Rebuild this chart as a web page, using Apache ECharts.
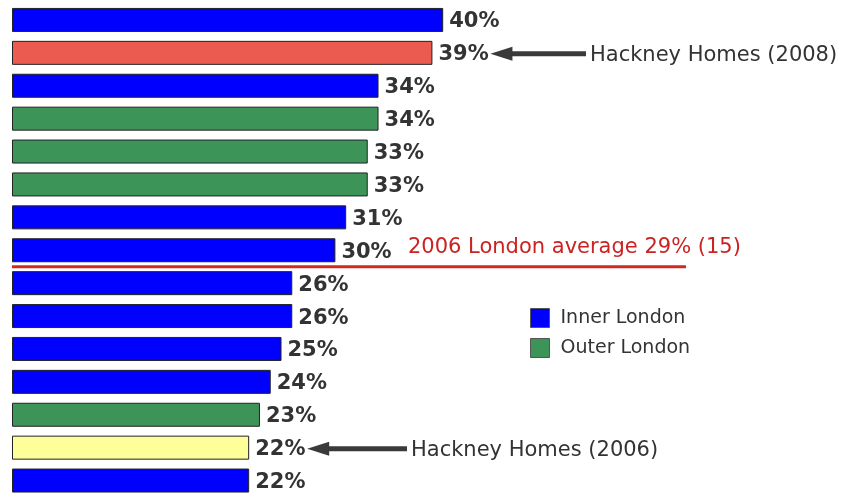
<!DOCTYPE html>
<html>
<head>
<meta charset="utf-8">
<script src="https://cdn.jsdelivr.net/npm/echarts@6/dist/echarts.min.js"></script>
<style>
  html, body { margin: 0; padding: 0; background: #fff; }
  #chart_container { width: 846px; height: 497px; }
</style>
</head>
<body>
<div id="chart_container"></div>
<script>
// rows top to bottom
var rows = ['1', '2', '3', '4', '5', '6', '7', '8', '9', '10', '11', '12', '13', '14', '15'];
var innerLondon = [40, '-', 34, '-', '-', '-', 31, 30, 26, 26, 25, 24, '-', '-', 22];
var outerLondon = ['-', '-', '-', 34, 33, 33, '-', '-', '-', '-', '-', '-', 23, '-', '-'];
var hackney = ['-', 39, '-', '-', '-', '-', '-', '-', '-', '-', '-', '-', '-', 22, '-'];
var hackneyColors = { 1: '#eb5b50', 13: '#ffff99' };
var londonAverage = 29;
var averageRank = 15;

var FONT = 'DejaVu Sans';
var chart = echarts.init(document.getElementById('chart_container'));

var labelStyle = {
  show: true,
  position: 'right',
  distance: 6,
  offset: [0, 2],
  formatter: '{c}%',
  fontFamily: FONT,
  fontWeight: 'bold',
  fontSize: 21,
  color: '#333'
};

function barSeries(name, values, color) {
  return {
    name: name,
    type: 'bar',
    data: values,
    barWidth: 24,
    barGap: '-100%',
    itemStyle: { color: color, borderColor: '#222', borderWidth: 1 },
    label: labelStyle,
    silent: true
  };
}

var hackneySeries = barSeries('Hackney Homes', hackney.map(function (v, i) {
  return v === '-' ? v : { value: v, itemStyle: { color: hackneyColors[i] } };
}), '#eb5b50');

option = {
  animation: false,
  backgroundColor: '#fff',
  grid: { left: 12, top: 3.5, width: 754.6, height: 495 },
  xAxis: { type: 'value', min: 0, max: 70, show: false },
  yAxis: { type: 'category', data: rows, inverse: true, show: false },
  legend: {
    data: ['Inner London', 'Outer London'],
    orient: 'vertical',
    left: 525,
    top: 303,
    itemWidth: 19,
    itemHeight: 19,
    itemGap: 10,
    icon: 'rect',
    selectedMode: false,
    itemStyle: { borderColor: '#555', borderWidth: 1 },
    textStyle: { fontFamily: FONT, fontSize: 19, color: '#333', padding: [0, 0, 0, 6] }
  },
  series: [
    barSeries('Inner London', innerLondon, '#0000ff'),
    barSeries('Outer London', outerLondon, '#3d9458'),
    hackneySeries
  ]
};
chart.setOption(option);

// annotations placed from the chart's own scales
function rowY(i) { return chart.convertToPixel({ yAxisIndex: 0 }, rows[i]); }
function valX(v) { return chart.convertToPixel({ xAxisIndex: 0 }, v); }

function arrow(row, value, textX, text) {
  var y = rowY(row) + 1;
  var tip = valX(value) + 58;
  return [
    { type: 'polygon', shape: { points: [[tip, y], [tip + 22, y - 7], [tip + 22, y + 7]] },
      style: { fill: '#3a3a3a' } },
    { type: 'rect', shape: { x: tip + 21, y: y - 2.5, width: textX - tip - 25, height: 5 },
      style: { fill: '#3a3a3a' } },
    { type: 'text', x: textX, y: y + 2,
      style: { text: text, fontFamily: FONT, fontSize: 21, fill: '#333', verticalAlign: 'middle' } }
  ];
}

var lineY = (rowY(7) + rowY(8)) / 2;
var graphics = [
  { type: 'line', shape: { x1: valX(0), y1: lineY, x2: 686, y2: lineY },
    style: { stroke: '#d02a20', lineWidth: 3 } },
  { type: 'text', x: 408, y: lineY - 19,
    style: { text: '2006 London average ' + londonAverage + '% (' + averageRank + ')',
      fontFamily: FONT, fontSize: 21, fill: '#cc2222', verticalAlign: 'middle' } }
].concat(arrow(1, 39, 590, 'Hackney Homes (2008)'))
 .concat(arrow(13, 22, 411, 'Hackney Homes (2006)'));

chart.setOption({ graphic: graphics });
</script>
</body>
</html>
